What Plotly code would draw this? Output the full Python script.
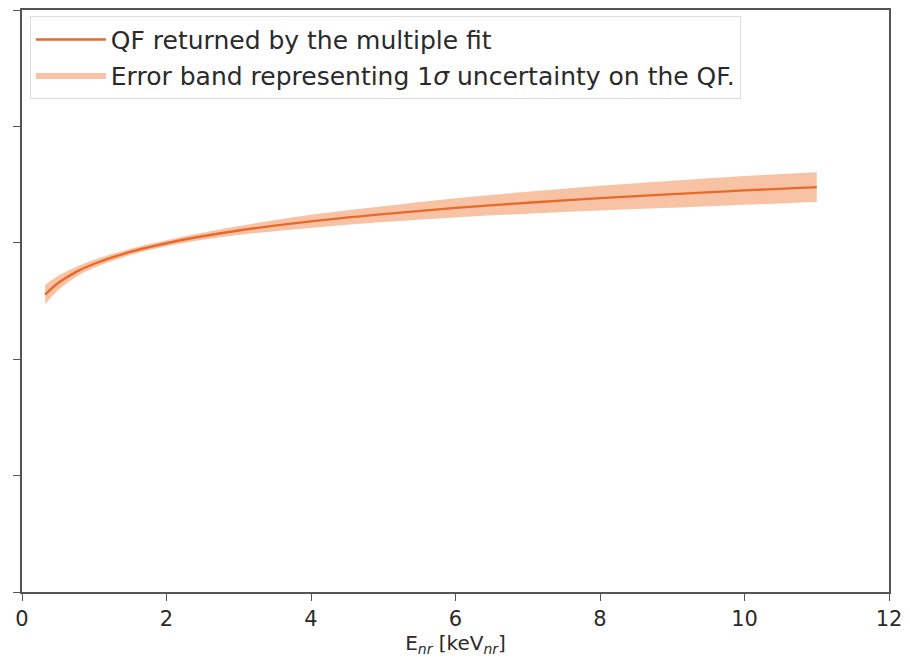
import plotly.graph_objects as go

# Nuclear-recoil energy grid [keV_nr]
energy = [0.32, 0.5, 0.75, 1.0, 1.5, 2.0, 2.5, 3.0, 4.0, 5.0, 6.0, 7.0, 8.0, 9.0, 10.0, 11.0]
# Quenching factor from the multiple fit
qf = [0.1277, 0.1327, 0.1375, 0.1410, 0.1461, 0.1498, 0.1528, 0.1553, 0.1592,
      0.1623, 0.1650, 0.1672, 0.1692, 0.1709, 0.1725, 0.1739]
# 1-sigma uncertainty on the QF
qf_err = [0.0042, 0.0031, 0.0021, 0.0017, 0.0013, 0.0013, 0.0015, 0.0019, 0.0028,
          0.0034, 0.0041, 0.0047, 0.0053, 0.0058, 0.0062, 0.0064]

x_ticks = [0, 2, 4, 6, 8, 10, 12]
y_ticks = [0, 0.05, 0.10, 0.15, 0.20, 0.25]

upper = [q + e for q, e in zip(qf, qf_err)]
lower = [q - e for q, e in zip(qf, qf_err)]

LINE_COLOR = "#e8692a"
BAND_COLOR = "rgba(241,140,82,0.52)"
FONT = "DejaVu Sans"

fig = go.Figure()
fig.add_trace(go.Scatter(
    x=energy, y=upper, mode="lines", line=dict(width=0, shape="spline"),
    showlegend=False, hoverinfo="skip"))
fig.add_trace(go.Scatter(
    x=energy, y=lower, mode="lines", line=dict(width=0, shape="spline"),
    fill="tonexty", fillcolor=BAND_COLOR,
    name="Error band representing 1<i>σ</i> uncertainty on the QF.",
    legendgroup="band", legendrank=2))
fig.add_trace(go.Scatter(
    x=energy, y=qf, mode="lines", line=dict(color=LINE_COLOR, width=2.4, shape="spline"),
    name="QF returned by the multiple fit", legendgroup="fit", legendrank=1))

axis_common = dict(showline=True, linecolor="#555555", linewidth=1.6, mirror=True,
                   ticks="outside", ticklen=7, tickwidth=1.4, tickcolor="#555555",
                   showgrid=False, zeroline=False)

fig.update_layout(
    width=910, height=665,
    margin=dict(l=22, r=18, t=8, b=73),
    paper_bgcolor="white", plot_bgcolor="white",
    font=dict(family=FONT, size=21, color="#2a2a2a"),
    xaxis=dict(range=[0, 12], tickvals=x_ticks, ticktext=[str(t) for t in x_ticks],
               tickfont=dict(size=21),
               title=dict(text="E<sub><i>nr</i></sub> [keV<sub><i>nr</i></sub>]",
                          font=dict(size=20), standoff=4),
               **axis_common),
    yaxis=dict(range=[0, 0.25], tickvals=y_ticks, showticklabels=False, **axis_common),
    legend=dict(x=0.009, y=0.99, xanchor="left", yanchor="top",
                bgcolor="rgba(255,255,255,0.8)", bordercolor="#dddddd", borderwidth=1,
                font=dict(family=FONT, size=25, color="#2a2a2a"), tracegroupgap=0,
                itemwidth=70),
    showlegend=True,
)

fig.write_html("out.html")
